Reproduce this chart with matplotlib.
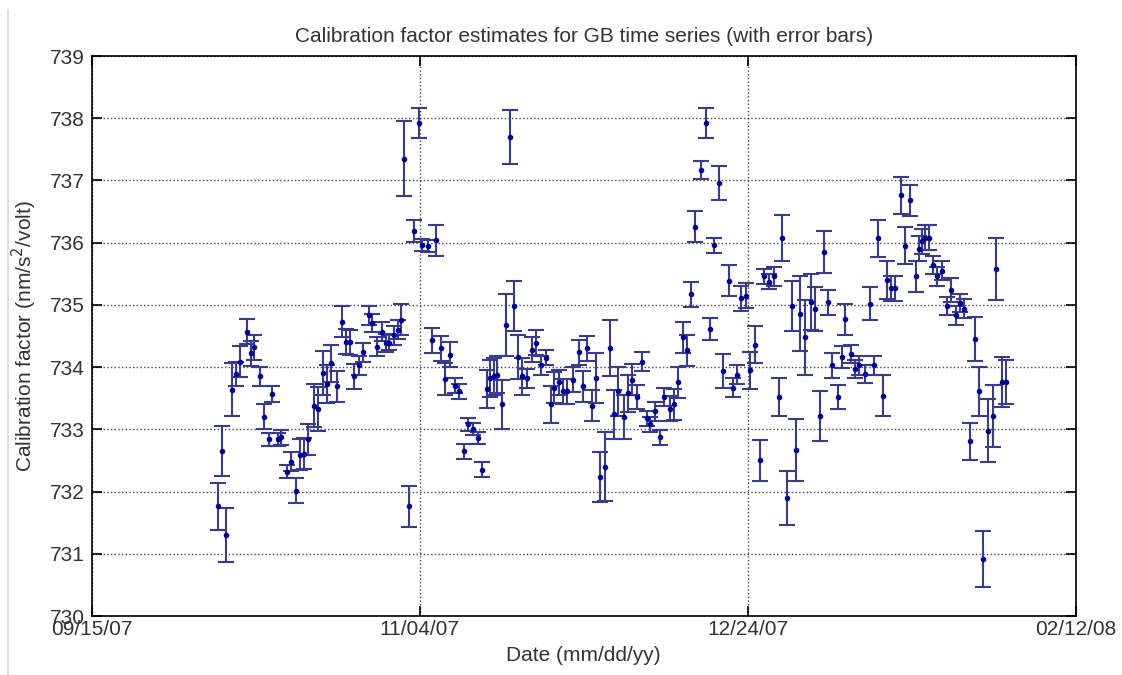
import datetime as dt
import matplotlib
matplotlib.use("Agg")
import matplotlib.pyplot as plt
from matplotlib.lines import Line2D

plt.rcParams['font.family'] = ['Liberation Sans', 'DejaVu Sans']

start = dt.datetime(2007, 9, 15)

# days after 09/15/07
days = [19.2, 19.9, 20.5, 21.3, 21.9, 22.6, 23.6, 24.2, 24.7, 25.6, 26.2, 27.0, 27.4,
        28.3, 28.8, 29.7, 30.4, 31.1, 31.7, 32.3, 32.9, 33.8, 34.4, 35.3, 35.8, 36.5,
        37.3, 38.1, 38.7, 39.3, 40.0, 40.7, 41.4, 42.2, 42.7, 43.5, 44.3, 44.8, 45.3,
        46.1, 46.6, 47.1, 47.6, 48.3, 49.1, 49.8, 50.4, 51.2, 51.8, 52.5, 53.3, 53.9,
        54.6, 55.4, 56.0, 56.7, 57.4, 58.1, 58.8, 59.5, 60.2, 60.7, 61.3, 61.7, 62.5,
        63.1, 63.7, 64.3, 65.0, 65.6, 66.3, 67.1, 67.7, 68.4, 69.3, 70.0, 70.5, 71.2,
        71.9, 72.5, 73.3, 74.2, 74.9, 75.5, 76.3, 76.9, 77.5, 78.2, 79.0, 79.6, 80.2,
        81.1, 81.7, 82.4, 83.1, 83.9, 84.6, 85.1, 85.9, 86.6, 87.3, 88.1, 88.7, 89.3,
        90.2, 90.8, 91.4, 92.0, 92.9, 93.6, 94.2, 94.9, 95.6, 96.2, 97.1, 97.8, 98.4,
        99.0, 99.8, 100.4, 101.1, 101.9, 102.5, 103.2, 104.0, 104.7, 105.2, 106.0,
        106.8, 107.4, 108.0, 108.8, 109.6, 110.2, 111.0, 111.7, 112.2, 112.9, 113.7,
        114.4, 114.9, 115.8, 116.4, 117.0, 117.9, 118.6, 119.2, 119.8, 120.6, 121.3,
        121.8, 122.5, 123.4, 124.0, 124.8, 125.6, 126.2, 126.6, 127.1, 127.7, 128.3,
        128.9, 129.6, 130.4, 131.0, 131.7, 132.4, 133.0, 133.9, 134.6, 135.2, 135.9,
        136.6, 137.4, 137.9, 138.8, 139.4]

calib = [731.76, 732.65, 731.30, 733.64, 733.89, 734.09, 734.57, 734.22, 734.32, 733.85,
         733.20, 732.84, 733.57, 732.84, 732.87, 732.32, 732.48, 732.01, 732.59, 732.61,
         732.84, 733.38, 733.33, 733.91, 733.73, 734.06, 733.69, 734.73, 734.41, 734.40,
         733.85, 734.03, 734.24, 734.83, 734.71, 734.33, 734.57, 734.39, 734.39, 734.51,
         734.60, 734.76, 737.35, 731.76, 736.19, 737.93, 735.96, 735.95, 734.43, 736.04,
         734.30, 733.81, 734.20, 733.70, 733.61, 732.65, 733.08, 733.01, 732.86, 732.35,
         733.65, 733.82, 733.85, 733.88, 733.40, 734.68, 737.70, 734.98, 734.16, 733.85,
         733.82, 734.28, 734.39, 734.03, 734.15, 733.40, 733.67, 733.76, 733.61, 733.61,
         733.80, 734.24, 733.69, 734.30, 733.38, 733.82, 732.24, 732.40, 734.30, 733.24,
         733.61, 733.20, 733.58, 733.80, 733.52, 734.09, 733.18, 733.08, 733.29, 732.87,
         733.52, 733.33, 733.40, 733.76, 734.48, 734.27, 735.17, 736.26, 737.17, 737.93,
         734.61, 735.96, 736.96, 733.94, 735.39, 733.67, 733.88, 735.11, 735.15, 733.95,
         734.36, 732.50, 735.46, 735.37, 735.46, 733.52, 736.08, 731.90, 734.98, 732.67,
         734.86, 734.48, 735.05, 734.93, 733.21, 735.85, 735.04, 734.03, 733.52, 734.16,
         734.77, 734.21, 733.97, 734.03, 733.89, 735.02, 734.03, 736.07, 733.54, 735.40,
         735.27, 735.27, 736.76, 735.95, 736.68, 735.46, 735.90, 736.02, 736.08, 736.08,
         735.64, 735.46, 735.55, 734.98, 735.24, 734.83, 735.03, 734.94, 732.81, 734.45,
         733.61, 730.92, 732.98, 733.21, 735.58, 733.76, 733.76]

errs = [0.37, 0.40, 0.44, 0.42, 0.20, 0.25, 0.20, 0.20, 0.20, 0.15, 0.20, 0.10, 0.13,
        0.10, 0.12, 0.10, 0.15, 0.20, 0.25, 0.25, 0.25, 0.35, 0.35, 0.35, 0.30, 0.30,
        0.25, 0.25, 0.20, 0.20, 0.20, 0.15, 0.15, 0.15, 0.15, 0.15, 0.15, 0.15, 0.12,
        0.15, 0.15, 0.25, 0.60, 0.33, 0.18, 0.24, 0.10, 0.10, 0.20, 0.25, 0.20, 0.25,
        0.20, 0.12, 0.12, 0.12, 0.10, 0.10, 0.10, 0.12, 0.30, 0.30, 0.30, 0.30, 0.40,
        0.50, 0.44, 0.40, 0.35, 0.30, 0.15, 0.20, 0.20, 0.15, 0.12, 0.30, 0.25, 0.20,
        0.20, 0.20, 0.20, 0.20, 0.25, 0.20, 0.25, 0.40, 0.40, 0.55, 0.45, 0.40, 0.40,
        0.35, 0.30, 0.25, 0.20, 0.15, 0.12, 0.12, 0.15, 0.12, 0.15, 0.20, 0.25, 0.25,
        0.25, 0.25, 0.20, 0.25, 0.15, 0.24, 0.18, 0.12, 0.27, 0.27, 0.25, 0.15, 0.15,
        0.20, 0.20, 0.30, 0.30, 0.33, 0.12, 0.12, 0.15, 0.30, 0.37, 0.43, 0.40, 0.50,
        0.60, 0.60, 0.45, 0.35, 0.40, 0.33, 0.20, 0.20, 0.20, 0.18, 0.25, 0.15, 0.15,
        0.15, 0.15, 0.27, 0.15, 0.30, 0.33, 0.30, 0.20, 0.20, 0.30, 0.30, 0.25, 0.25,
        0.20, 0.20, 0.20, 0.20, 0.15, 0.15, 0.15, 0.15, 0.20, 0.15, 0.15, 0.15, 0.30,
        0.35, 0.40, 0.45, 0.50, 0.50, 0.50, 0.40, 0.35]

tick_labels = ["09/15/07", "11/04/07", "12/24/07", "02/12/08"]
tick_dates = [start + dt.timedelta(days=d) for d in (0, 50, 100, 150)]

dates = [start + dt.timedelta(days=d) for d in days]

txt = '#333333'

fig = plt.figure(figsize=(11.22, 6.75), dpi=100)
ax = fig.add_axes([0.082, 0.0874, 0.8766, 0.8296])

# thin gray border of the original window at the left
fig.add_artist(Line2D([0.0075, 0.0075], [0.0, 0.985], color='#d8d8d8', linewidth=1.2))

ax.errorbar(dates, calib, yerr=errs, fmt='.', color='#0000a0', ecolor='#3a3a90',
            elinewidth=1.5, capsize=6, capthick=1.5, markersize=6)

ax.set_xlim(tick_dates[0], tick_dates[-1])
ax.set_ylim(730, 739)
ax.set_xticks(tick_dates)
ax.set_xticklabels(tick_labels)
ax.set_yticks(range(730, 740))
ax.xaxis.set_minor_locator(plt.NullLocator())

ax.grid(True, linestyle=':', color='#444444', linewidth=1.0)
ax.tick_params(direction='in', length=7, width=1.2, labelsize=15, labelcolor=txt,
               top=True, right=True)
ax.tick_params(axis='x', pad=3)
ax.tick_params(axis='y', pad=5)
for s in ax.spines.values():
    s.set_linewidth(1.2)

ax.set_title("Calibration factor estimates for GB time series (with error bars)",
             fontsize=15, pad=10, color=txt)
ax.set_xlabel("Date (mm/dd/yy)", fontsize=15, labelpad=5, color=txt)
ax.set_ylabel(r"Calibration factor (nm/s$^2$/volt)", fontsize=15, labelpad=8, color=txt)

fig.savefig("out.png", dpi=100)
